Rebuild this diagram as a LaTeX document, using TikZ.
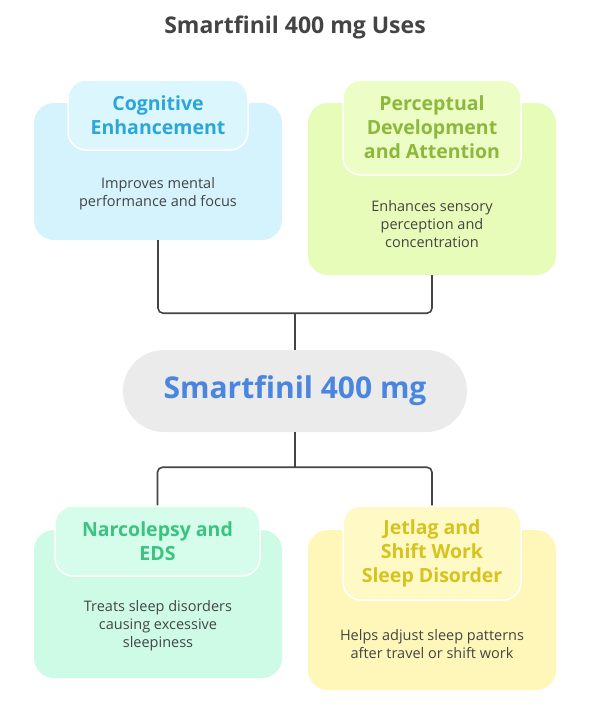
\documentclass[tikz,border=0pt]{standalone}
\usepackage{fontspec}
\setmainfont{Open Sans}
\definecolor{cybox}{HTML}{D4F3FD}
\definecolor{cyhead}{HTML}{DCF6FE}
\definecolor{cytxt}{HTML}{2AA6D9}
\definecolor{grbox}{HTML}{E8FCB9}
\definecolor{grhead}{HTML}{EDFDC6}
\definecolor{grtxt}{HTML}{8CB83C}
\definecolor{mnbox}{HTML}{CDFBE6}
\definecolor{mnhead}{HTML}{D6FCEB}
\definecolor{mntxt}{HTML}{3BC380}
\definecolor{yebox}{HTML}{FFF7B9}
\definecolor{yehead}{HTML}{FFF9C6}
\definecolor{yetxt}{HTML}{D6C31E}
\definecolor{pillgray}{HTML}{EBEBEB}
\definecolor{pilltxt}{HTML}{4A86E0}
\definecolor{ink}{HTML}{444444}
\begin{document}
\begin{tikzpicture}[x=1pt,y=-1pt,
  bigbox/.style={rectangle, rounded corners=20pt, draw=none, inner sep=0pt},
  headbox/.style={rectangle, rounded corners=18pt, draw=white, line width=1.5pt, inner sep=0pt},
  headtxt/.style={font=\fontsize{19.5}{24}\selectfont\bfseries, align=center},
  desctxt/.style={font=\fontsize{14.5}{18}\selectfont, text=ink, align=center},
  conn/.style={draw=ink, line width=1.6pt, rounded corners=5pt}
]
\useasboundingbox (0,0) rectangle (594,712);
\fill[white] (0,0) rectangle (594,712);

\node[font=\fontsize{23}{28}\selectfont\bfseries, text=ink] (title) at (295,27) {Smartfinil 400 mg Uses};

\node[bigbox, fill=cybox, minimum width=248pt, minimum height=137pt] (tlb) at (158,171.5) {};
\node[bigbox, fill=grbox, minimum width=248pt, minimum height=172pt] (trb) at (432,189) {};
\node[bigbox, fill=mnbox, minimum width=248pt, minimum height=148pt] (blb) at (158,604) {};
\node[bigbox, fill=yebox, minimum width=248pt, minimum height=160pt] (brb) at (432,610) {};
\node[rectangle, rounded corners=41pt, fill=pillgray, minimum width=344pt, minimum height=82pt, inner sep=0pt] (pill) at (295,391) {};

\coordinate (j1) at (295,313);
\coordinate (j2) at (295,468);
\draw[conn] (tlb.south) -- ++(0,73) -| (trb.south);
\draw[conn] (j1) -- (pill.north);
\draw[conn] (pill.south) -- (j2);
\node[headbox, fill=mnhead, minimum width=205pt, minimum height=70pt] (blh) at (157.5,541) {};
\node[headbox, fill=yehead, minimum width=178pt, minimum height=94pt] (brh) at (432,553) {};
\draw[conn] (blh.north) -- ++(0,-38) -| (brh.north);

\node[headbox, fill=cyhead, minimum width=180pt, minimum height=70pt] (tlh) at (158,115) {};
\node[headbox, fill=grhead, minimum width=178pt, minimum height=95pt] (trh) at (432,127.5) {};

\node[headtxt, text=cytxt] (tlt) at (tlh) {Cognitive\\Enhancement};
\node[desctxt] (tld) at (158,194) {Improves mental\\performance and focus};

\node[headtxt, text=grtxt] (trt) at (trh) {Perceptual\\Development\\and Attention};
\node[desctxt] (trd) at (432,224) {Enhances sensory\\perception and\\concentration};

\node[font=\fontsize{30}{34}\selectfont\bfseries, text=pilltxt] (pillt) at (pill) {Smartfinil 400 mg};

\node[headtxt, text=mntxt] (blt) at (blh) {Narcolepsy and\\EDS};
\node[desctxt] (bld) at (158,626) {Treats sleep disorders\\causing excessive\\sleepiness};

\node[headtxt, text=yetxt] (brt) at (brh) {Jetlag and\\Shift Work\\Sleep Disorder};
\node[desctxt] (brd) at (432,644) {Helps adjust sleep patterns\\after travel or shift work};
\end{tikzpicture}
\end{document}
